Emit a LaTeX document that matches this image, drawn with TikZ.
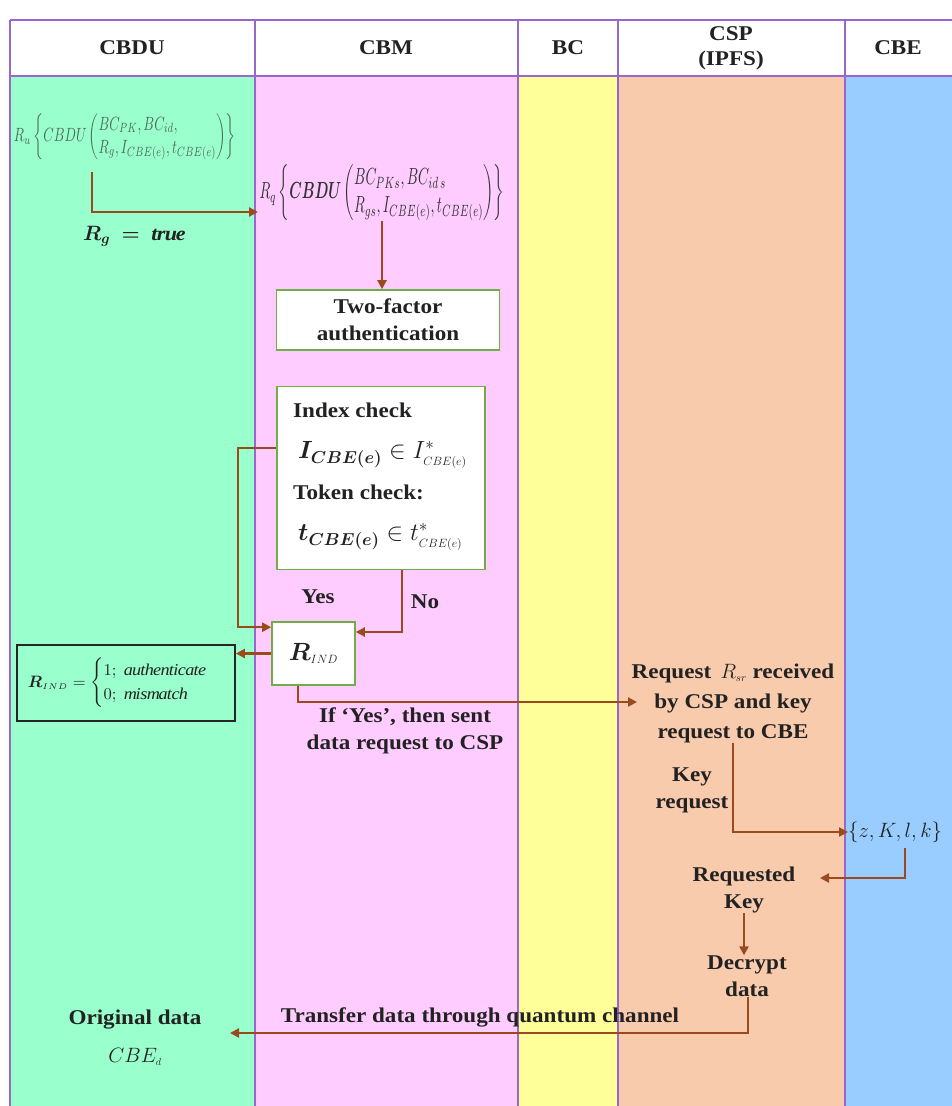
\documentclass[tikz,border=0pt]{standalone}
\usepackage{amsmath,amssymb,bm}
\usepackage{graphicx}
\usepackage{fontspec}
\setmainfont[FakeStretch=1.1]{Liberation Serif}
\usetikzlibrary{arrows.meta}
\definecolor{cgreen}{HTML}{99FFCC}
\definecolor{cpink}{HTML}{FFCCFF}
\definecolor{cyellow}{HTML}{FFFF99}
\definecolor{cpeach}{HTML}{F8CBAD}
\definecolor{cblue}{HTML}{99CCFF}
\definecolor{lanec}{HTML}{9966CC}
\definecolor{flowc}{HTML}{9A4A1C}
\definecolor{boxg}{HTML}{70AD47}
\definecolor{txtc}{HTML}{222222}
\definecolor{formg}{HTML}{4E6B5C}
\definecolor{formd}{HTML}{333333}
\newcommand\bodyfont{\bfseries\fontsize{21}{27}\selectfont}
\newcommand\hdrfont{\bfseries\fontsize{21}{25}\selectfont}
\begin{document}
\begin{tikzpicture}[x=1pt,y=-1pt,
  lane/.style={draw=lanec, line width=1.6pt},
  flow/.style={draw=flowc, line width=2.2pt, -{Triangle[length=9pt,width=9pt]}},
  gbox/.style={draw=boxg, line width=1.6pt, fill=white, inner sep=0pt},
  txt/.style={font=\bodyfont, align=center, text=txtc, inner sep=0pt},
  hdr/.style={font=\hdrfont, align=center, text=txtc, inner sep=0pt}]
\useasboundingbox (0,0) rectangle (952,1106);
\fill[white] (0,0) rectangle (952,1106);
% lanes
\fill[cgreen] (10,76) rectangle (255,1106);
\fill[cpink] (255,76) rectangle (518,1106);
\fill[cyellow] (518,76) rectangle (618,1106);
\fill[cpeach] (618,76) rectangle (845,1106);
\fill[cblue] (845,76) rectangle (952,1106);
\draw[lane] (10,20) -- (952,20);
\draw[lane] (10,76) -- (952,76);
\foreach \xx in {10,255,518,618,845} \draw[lane] (\xx,20) -- (\xx,1106);
% headers
\node[hdr] (h1) at (132,48) {CBDU};
\node[hdr] (h2) at (386,48) {CBM};
\node[hdr] (h3) at (568,48) {BC};
\node[hdr] (h4) at (731,48) {CSP\\(IPFS)};
\node[hdr] (h5) at (898,48) {CBE};
% CBDU formula
\node[inner sep=0pt, text=formg] (f1) at (125,137) {\resizebox*{222pt}{46pt}{$R_u\left\{CBDU\left(\begin{array}{@{}l@{}}BC_{PK}, BC_{id},\\ R_g, I_{CBE(e)}, t_{CBE(e)}\end{array}\right)\right\}$}};
\node[inner sep=0pt, text=txtc, font=\fontsize{20}{24}\selectfont] (rg) at (134,236) {$\bm{R_{g} \;=\; \mathit{true}}$};
% CBM formula
\node[inner sep=0pt, text=formd] (f2) at (382,193) {\resizebox*{245pt}{56pt}{$R_q\left\{\bm{CBDU}\left(\begin{array}{@{}l@{}}BC_{PKs}, BC_{id\,s}\\ R_{gs}, I_{CBE(e)}, t_{CBE(e)}\end{array}\right)\right\}$}};
\coordinate (p1) at (92,172);
\coordinate (p2) at (258,212);
\draw[flow] (p1) |- (p2);
% two-factor
\node[gbox, minimum width=223pt, minimum height=60pt, txt] (tf) at (388,320) {Two-factor\\authentication};
\draw[flow] (f2.south) -- (f2.south |- tf.north);
% index check box
\node[gbox, minimum width=208pt, minimum height=183pt] (ib) at (381,478) {};
\node[txt, anchor=west] (t1) at (293,410) {Index check};
\node[inner sep=0pt, anchor=west, text=txtc, font=\fontsize{25}{28}\selectfont] (m1) at (298,455) {$\bm{I_{CBE(e)}} \in I^{*}_{\scriptscriptstyle CBE(e)}$};
\node[txt, anchor=west] (t2) at (293,492) {Token check:};
\node[inner sep=0pt, anchor=west, text=txtc, font=\fontsize{25}{28}\selectfont] (m2) at (298,537) {$\bm{t_{CBE(e)}} \in t^{*}_{\scriptscriptstyle CBE(e)}$};
% R_IND box
\node[gbox, minimum width=83pt, minimum height=63pt, text=txtc, font=\fontsize{23}{26}\selectfont] (rind) at (313.5,653.5) {$\bm{R}_{\scriptscriptstyle IND}$};
\coordinate (yb) at (238,448);
\draw[flow] (ib.west |- yb) -- (yb) |- ([yshift=-6pt]rind.north west);
\coordinate (nb) at (402,632);
\draw[flow] (ib.south -| nb) -- (nb) -- (nb -| rind.east);
\node[txt] (yes) at (318,597) {Yes};
\node[txt] (no) at (425,602) {No};
% result box
\node[draw=black!85, line width=1.6pt, minimum width=218pt, minimum height=76pt, inner sep=0pt, text=txtc] (res) at (126,683) {\resizebox{196pt}{!}{$\bm{R}_{\scriptscriptstyle IND} = \begin{cases}1;\ \mathit{authenticate}\\ 0;\ \mathit{mismatch}\end{cases}$}};
\draw[flow] (rind.west) -- (rind.west -| res.east);
% data request
\node[txt] (ify) at (405,731) {If `Yes', then sent\\data request to CSP};
\coordinate (q1) at (637,702);
\draw[flow] ([xshift=-15.5pt]rind.south) |- (q1);
% CSP
\node[txt, font=\bfseries\fontsize{21}{30}\selectfont] (csp) at (733,703) {Request \,$R_{\scriptscriptstyle sr}$ received\\by CSP and key\\request to CBE};
\node[txt] (kr) at (692,790) {Key\\request};
\node[inner sep=0pt, anchor=west, text=txtc, font=\fontsize{21}{26}\selectfont] (zk) at (848,832) {$\{z, K, l, k\}$};
\draw[flow] (csp.south) |- (zk.west);
% key back
\node[txt] (rk) at (744,890) {Requested\\Key};
\coordinate (k1) at (905,848);
\coordinate (k2) at (820,878);
\draw[flow] (k1) |- (k2);
\node[txt] (dd) at (747,976) {Decrypt\\data};
\draw[flow] (rk.south) -- (rk.south |- dd.north);
% transfer
\node[txt] (tr) at (480,1017) {Transfer data through quantum channel};
\node[txt] (od) at (135,1020) {Original data};
\node[inner sep=0pt, text=txtc, font=\fontsize{20}{24}\selectfont] (cbm) at (135,1057) {$CBE_{\scriptscriptstyle d}$};
\coordinate (tt) at (230,1033);
\draw[flow] ([xshift=1pt]dd.south) |- (tt);
\end{tikzpicture}
\end{document}
